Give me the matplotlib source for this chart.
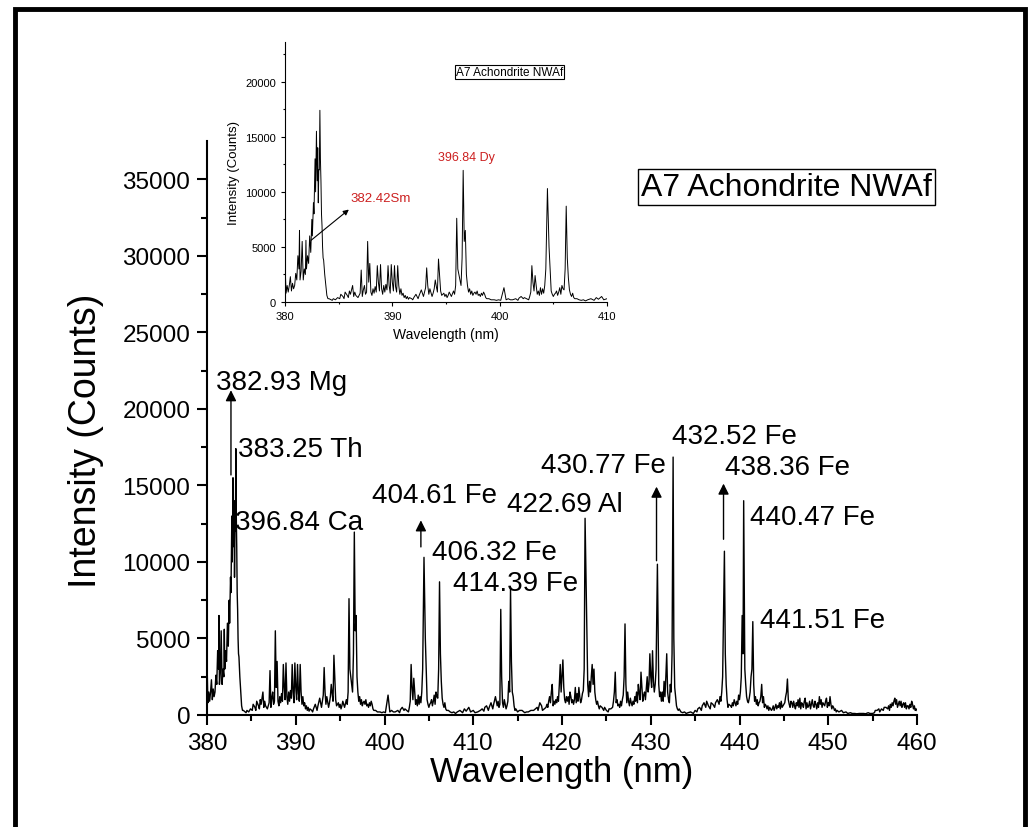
import numpy as np
import matplotlib
matplotlib.use("Agg")
import matplotlib.pyplot as plt
from matplotlib.patches import Rectangle

plt.rcParams['font.family'] = ['Liberation Sans', 'DejaVu Sans']

# emission lines: position (nm) and height (counts)
wavelength = [380.0, 380.2, 380.5, 380.8, 381.0, 381.2, 381.35, 381.5, 381.6, 381.8,
              381.95, 382.1, 382.3, 382.5, 382.65, 382.8, 382.93, 383.05, 383.15, 383.25,
              383.35, 383.45, 383.6, 383.8, 384.0, 384.5, 385.2, 385.6, 386.0, 386.3,
              386.6, 387.1, 387.4, 387.7, 387.9, 388.2, 388.6, 388.9, 389.2, 389.6,
              389.9, 390.2, 390.5, 390.8, 391.2, 391.6, 392.2, 392.7, 393.2, 393.5,
              394.0, 394.3, 394.8, 395.3, 395.7, 396.0, 396.2, 396.6, 396.8, 397.2,
              397.6, 398.0, 398.5, 399.0, 399.5, 400.4, 401.0, 401.5, 402.0, 402.5,
              403.0, 403.3, 403.6, 404.0, 404.45, 404.7, 405.2, 405.6, 405.9, 406.2,
              406.4, 406.8, 407.2, 407.8, 408.5, 409.0, 409.5, 410.0, 410.5, 411.0,
              411.5, 412.0, 412.5, 413.0, 413.1, 413.5, 414.0, 414.2, 414.5, 414.8,
              415.5, 416.0, 416.5, 417.0, 417.5, 418.0, 418.6, 418.9, 419.3, 419.8,
              420.1, 420.5, 420.9, 421.2, 421.5, 421.9, 422.3, 422.6, 422.75, 423.1,
              423.4, 423.6, 424.0, 424.5, 425.0, 425.5, 426.0, 426.3, 426.8, 427.1,
              427.4, 427.8, 428.2, 428.6, 428.9, 429.3, 429.6, 429.9, 430.2, 430.5,
              430.75, 431.1, 431.5, 431.8, 432.2, 432.52, 432.8, 433.2, 433.8, 434.5,
              435.0, 435.5, 436.0, 436.5, 437.0, 437.5, 438.0, 438.3, 438.5, 439.0,
              439.5, 440.0, 440.3, 440.47, 440.7, 441.2, 441.5, 441.8, 442.2, 442.5,
              443.0, 443.5, 444.0, 444.5, 445.0, 445.4, 445.8, 446.2, 446.6, 447.0,
              447.4, 447.8, 448.2, 448.6, 449.0, 449.4, 449.8, 450.2, 450.6, 451.0,
              451.5, 452.0, 452.5, 453.0, 453.5, 454.0, 454.5, 455.0, 455.5, 456.0,
              456.5, 457.0, 457.5, 458.0, 458.5, 459.0, 459.5, 460.0]
intensity = [3500, 1500, 2300, 1200, 2600, 4200, 6500, 2800, 5500, 3000,
             5600, 4200, 6000, 7500, 9000, 13000, 15500, 14000, 12000, 17400,
             11000, 6900, 3800, 1500, 300, 300, 700, 900, 1000, 1500,
             600, 2900, 1500, 5500, 3500, 1200, 3300, 3400, 1500, 3300,
             3400, 3300, 3300, 1200, 600, 400, 700, 1100, 3100, 1200,
             2000, 3900, 800, 900, 1000, 7600, 2500, 11950, 6500, 1200,
             800, 600, 900, 300, 200, 1300, 200, 300, 500, 300,
             3300, 2400, 1000, 1200, 10300, 3000, 800, 1300, 1200, 8700,
             2200, 800, 300, 200, 300, 400, 500, 300, 200, 400,
             600, 800, 1200, 700, 6900, 1000, 2200, 8300, 1200, 400,
             300, 200, 300, 400, 800, 400, 1200, 2000, 1000, 3300,
             3600, 1200, 1500, 1000, 1800, 1800, 1400, 12850, 7200, 2200,
             3300, 3000, 900, 500, 300, 400, 2800, 600, 1000, 5950,
             1500, 800, 1200, 2000, 2800, 1500, 2500, 4000, 4200, 2000,
             9850, 1500, 2200, 4000, 2000, 16850, 1200, 400, 200, 200,
             300, 500, 800, 600, 700, 1000, 1500, 10700, 2000, 600,
             800, 1000, 6500, 14000, 2000, 1500, 6100, 1200, 800, 2000,
             600, 400, 500, 800, 700, 2350, 900, 600, 1000, 800,
             1100, 600, 1000, 700, 1200, 800, 1100, 1200, 500, 300,
             300, 200, 150, 100, 100, 100, 150, 100, 300, 400,
             500, 700, 1100, 900, 800, 600, 700, 300]

# low-level background points between the lines
noise_wl = [380.1, 380.3, 380.4, 380.6, 380.7, 380.9, 381.1, 381.3, 381.4, 381.7,
            381.9, 382.0, 382.2, 382.4, 382.55, 382.7, 382.85, 383.0, 383.1, 383.2,
            383.3, 383.4, 383.5, 383.55, 383.7, 383.9, 384.1,
            384.2, 384.4, 384.7, 384.9, 385.1, 385.4, 385.5, 385.8, 385.9, 386.1,
            386.4, 386.5, 386.8, 386.9, 387.0, 387.2, 387.3, 387.5, 387.6, 387.8,
            388.0, 388.1, 388.3, 388.4, 388.5, 388.7, 388.8, 389.0, 389.1, 389.3,
            389.4, 389.5, 389.7, 389.8, 390.0, 390.1, 390.3, 390.4, 390.6, 390.7,
            390.9, 391.0, 391.1, 391.3, 391.4, 391.5, 391.8, 391.9, 392.0, 392.4,
            392.5, 392.9, 393.0, 393.1, 393.3, 393.4, 393.7, 393.8, 393.9, 394.1,
            394.2, 394.5, 394.6, 394.9, 395.0, 395.1, 395.2, 395.5, 395.8, 395.9,
            396.1, 396.4, 396.5, 396.7, 396.9, 397.0, 397.1, 397.3, 397.4, 397.5,
            397.7, 397.8, 397.9, 398.1, 398.2, 398.3, 398.4, 398.6, 398.7, 398.8,
            399.2, 399.7, 399.9, 400.1, 400.6, 400.8, 401.2, 401.7, 401.8, 402.2,
            402.3, 402.7, 402.8, 402.9, 403.1, 403.2, 403.4, 403.5, 403.7, 403.8,
            403.9, 404.1, 404.2, 404.3, 404.6, 404.8, 404.9, 405.0, 405.1, 405.3,
            405.4, 405.5, 405.7, 405.8, 406.0, 406.1, 406.3, 406.5, 406.6, 406.7,
            406.9, 407.0, 407.4, 407.6, 408.0, 408.2, 408.8, 409.2, 409.7, 410.2,
            410.8, 411.2, 411.3, 411.7, 411.8, 412.2, 412.3, 412.7, 412.8, 412.9,
            413.2, 413.3, 413.4, 413.7, 413.8, 413.9, 414.1, 414.3, 414.4, 414.6,
            414.7, 415.0, 415.2, 415.8, 416.2, 416.8, 417.2, 417.3, 417.7, 417.8,
            418.2, 418.3, 418.4, 418.5, 418.7, 418.8, 419.0, 419.1, 419.2, 419.4,
            419.5, 419.6, 419.7, 419.9, 420.0, 420.2, 420.3, 420.4, 420.6, 420.7,
            420.8, 421.0, 421.1, 421.3, 421.4, 421.6, 421.7, 421.8, 422.0, 422.1,
            422.2, 422.4, 422.5, 422.9, 423.0, 423.2, 423.3, 423.5, 423.7, 423.8,
            423.9, 424.1, 424.2, 424.3, 424.7, 424.8, 425.2, 425.3, 425.7, 425.8,
            425.9, 426.1, 426.2, 426.4, 426.5, 426.6, 426.7, 426.9, 427.0, 427.2,
            427.3, 427.5, 427.6, 427.7, 427.9, 428.0, 428.1, 428.3, 428.4, 428.5,
            428.7, 428.8, 429.0, 429.1, 429.2, 429.4, 429.5, 429.7, 429.8, 430.0,
            430.1, 430.3, 430.4, 430.6, 430.9, 431.0, 431.2, 431.3, 431.4, 431.6,
            431.7, 431.9, 432.0, 432.1, 432.3, 432.4, 432.6, 432.7, 432.9, 433.0,
            433.1, 433.4, 433.6, 434.0, 434.2, 434.8, 435.2, 435.3, 435.7, 435.8,
            436.2, 436.3, 436.7, 436.8, 437.2, 437.3, 437.7, 437.8, 437.9, 438.1,
            438.4, 438.6, 438.7, 438.8, 439.1, 439.2, 439.3, 439.4, 439.6, 439.7,
            439.8, 439.9, 440.1, 440.2, 440.4, 440.6, 440.8, 440.9, 441.0, 441.1,
            441.3, 441.4, 441.6, 441.7, 441.9, 442.0, 442.1, 442.3, 442.4, 442.6,
            442.7, 442.8, 442.9, 443.1, 443.2, 443.3, 443.4, 443.6, 443.7, 443.8,
            443.9, 444.1, 444.2, 444.3, 444.4, 444.6, 444.7, 444.8, 444.9, 445.1,
            445.2, 445.3, 445.5, 445.6, 445.7, 445.9, 446.0, 446.1, 446.3, 446.4,
            446.5, 446.7, 446.8, 446.9, 447.1, 447.2, 447.3, 447.5, 447.6, 447.7,
            447.9, 448.0, 448.1, 448.3, 448.4, 448.5, 448.7, 448.8, 448.9, 449.1,
            449.2, 449.3, 449.5, 449.6, 449.7, 449.9, 450.0, 450.1, 450.3, 450.4,
            450.5, 450.7, 450.8, 450.9, 451.2, 451.7, 452.2, 452.7, 453.2, 453.7,
            454.2, 454.7, 455.2, 455.3, 455.7, 455.8, 456.2, 456.3, 456.7, 456.8,
            456.9, 457.1, 457.2, 457.3, 457.4, 457.6, 457.7, 457.8, 457.9, 458.1,
            458.2, 458.3, 458.4, 458.6, 458.7, 458.8, 458.9, 459.1, 459.2, 459.3,
            459.4, 459.6, 459.7, 459.8, 459.9]
noise_int = [800, 900, 1500, 1000, 1700, 1500, 2000, 3000, 2000, 2000,
             2500, 3000, 3500, 4500, 6000, 8000, 10000, 11000, 9000, 12000,
             13000, 8000, 5000, 4000, 2500, 600, 300,
             250, 150, 200, 400, 300, 500, 300, 600, 400, 700,
             500, 900, 400, 600, 800, 500, 1100, 700, 900, 1800,
             900, 600, 800, 1400, 900, 1800, 1000, 1200, 700, 900,
             1600, 1100, 1500, 800, 1800, 1000, 1400, 900, 1500, 700,
             600, 800, 400, 300, 500, 250, 300, 200, 400, 300,
             600, 500, 900, 1300, 1500, 700, 500, 800, 1200, 1400,
             900, 1000, 600, 500, 700, 400, 600, 500, 700, 1500,
             3000, 1500, 4000, 5500, 2500, 1500, 900, 700, 1000, 600,
             900, 700, 1000, 700, 500, 800, 600, 700, 400, 300,
             200, 150, 200, 150, 200, 300, 200, 150, 350, 300,
             400, 200, 500, 900, 1800, 1000, 1500, 700, 600, 1300,
             700, 800, 1500, 3000, 5000, 1000, 700, 500, 700, 1000,
             600, 900, 700, 1500, 1100, 3000, 4000, 1100, 700, 500,
             400, 300, 200, 150, 100, 200, 150, 250, 200, 150,
             300, 250, 500, 300, 500, 400, 700, 600, 900, 500,
             2500, 800, 500, 400, 600, 900, 1500, 3500, 1500, 600,
             300, 200, 300, 150, 200, 300, 500, 300, 600, 300,
             500, 700, 500, 900, 800, 1500, 600, 900, 700, 800,
             1200, 900, 2000, 1500, 2500, 1800, 1000, 800, 900, 1200,
             700, 1200, 800, 700, 1000, 800, 1400, 900, 1200, 800,
             1000, 1600, 3000, 2000, 1200, 1500, 2500, 2000, 1500, 1000,
             700, 600, 400, 600, 300, 500, 200, 400, 500, 900,
             1500, 800, 1000, 700, 500, 900, 600, 1300, 2500, 2000,
             800, 900, 600, 1100, 600, 900, 700, 900, 1500, 800,
             1400, 1000, 1800, 900, 1300, 1000, 1800, 1500, 2000, 2500,
             1800, 2200, 1500, 3000, 2000, 1200, 900, 1500, 900, 1200,
             2500, 1500, 1000, 800, 1500, 4000, 5000, 1800, 600, 400,
             300, 200, 150, 100, 150, 100, 200, 400, 300, 600,
             500, 900, 400, 800, 500, 800, 700, 1200, 900, 2500,
             4000, 1000, 500, 700, 500, 800, 600, 1000, 600, 900,
             700, 1300, 1500, 2500, 4000, 3000, 1200, 900, 800, 1100,
             2500, 3000, 2000, 900, 700, 1000, 600, 900, 1200, 800,
             1200, 500, 700, 400, 600, 300, 500, 300, 400, 600,
             300, 700, 400, 600, 500, 400, 900, 500, 600, 800,
             1200, 1500, 1000, 700, 500, 800, 500, 900, 400, 800,
             600, 500, 1100, 400, 700, 500, 900, 400, 800, 500,
             900, 400, 700, 600, 500, 900, 400, 800, 500, 700,
             1000, 500, 700, 600, 900, 500, 800, 600, 700, 400,
             600, 300, 400, 200, 200, 150, 100, 100, 80, 100,
             80, 100, 150, 300, 400, 200, 300, 500, 400, 600,
             300, 500, 800, 600, 900, 700, 1000, 500, 700, 600,
             900, 500, 700, 500, 800, 400, 600, 400, 700, 500,
             900, 400, 600, 300, 400]

# main plot labels: text and position
main_labels = ["382.93 Mg", "383.25 Th", "396.84 Ca", "404.61 Fe", "406.32 Fe",
               "414.39 Fe", "422.69 Al", "430.77 Fe", "432.52 Fe", "438.36 Fe",
               "440.47 Fe", "441.51 Fe"]
label_x = [381.0, 383.5, 383.2, 398.6, 405.35, 407.7, 413.8, 417.6, 432.4, 438.4, 441.2, 442.3]
label_y = [21750, 17370, 12600, 14370, 10650, 8620, 13780, 16330, 18220, 16200, 12930, 6200]

# arrows: x, start y, end y
arrow_x = [382.7, 404.1, 430.65, 438.2]
arrow_y0 = [15500, 10800, 9900, 11300]
arrow_y1 = [21400, 12900, 15100, 15300]

# merge lines and background into one spectrum trace
xs = np.array(wavelength + noise_wl)
ys = np.array(intensity + noise_int)
order = np.argsort(xs)
xs, ys = xs[order], ys[order]

fig = plt.figure(figsize=(10.3, 8.28), dpi=100)

ax = fig.add_axes([207/1030, 112/828, 710/1030, 574/828])
ax.plot(xs, ys, color='black', lw=1.0)
ax.set_xlim(380, 460)
ax.set_ylim(0, 37500)
ax.set_xticks(np.arange(380, 461, 10))
ax.set_xticks(np.arange(385, 460, 10), minor=True)
ax.set_yticks(np.arange(0, 35001, 5000))
ax.set_yticks(np.arange(2500, 37500, 5000), minor=True)
ax.spines['top'].set_visible(False)
ax.spines['right'].set_visible(False)
ax.spines['left'].set_linewidth(1.5)
ax.spines['bottom'].set_linewidth(1.5)
ax.tick_params(which='major', direction='out', length=7, width=1.5, labelsize=17.5, pad=5)
ax.tick_params(which='minor', direction='out', length=4, width=1.5)
ax.set_xlabel("Wavelength (nm)", fontsize=25, labelpad=1)
ax.set_ylabel("Intensity (Counts)", fontsize=27)
ax.yaxis.set_label_coords(-0.145, 0.48)

for t, x, y in zip(main_labels, label_x, label_y):
    ax.text(x, y, t, fontsize=20, ha='left', va='center')
for x, y0, y1 in zip(arrow_x, arrow_y0, arrow_y1):
    ax.annotate("", xy=(x, y1), xytext=(x, y0),
                arrowprops=dict(arrowstyle='-|>', color='black', lw=1, mutation_scale=16))

ax.text(445.3, 34480, "A7 Achondrite NWAf", fontsize=23, ha='center', va='center',
        bbox=dict(boxstyle='square,pad=0.1', fc='white', ec='black', lw=1))

# inset: zoom of 380-410 nm
ins = fig.add_axes([285/1030, (828-303)/828, 322/1030, 260/828])
ins.plot(xs, ys, color='black', lw=0.7)
ins.set_xlim(380, 410)
ins.set_ylim(0, 23600)
ins.set_xticks([380, 390, 400, 410])
ins.set_xticks([385, 395, 405], minor=True)
ins.set_yticks(np.arange(0, 20001, 5000))
ins.set_yticks(np.arange(2500, 22600, 5000), minor=True)
ins.spines['top'].set_visible(False)
ins.spines['right'].set_visible(False)
ins.tick_params(which='major', direction='out', length=3, width=0.8, labelsize=8)
ins.tick_params(which='minor', direction='out', length=1.5, width=0.8)
ins.set_xlabel("Wavelength (nm)", fontsize=10)
ins.set_ylabel("Intensity (Counts)", fontsize=9.5)
ins.text(400.9, 20900, "A7 Achondrite NWAf", fontsize=8.5, ha='center', va='center',
         bbox=dict(boxstyle='square,pad=0.1', fc='white', ec='black', lw=0.8))
ins.text(396.9, 13180, "396.84 Dy", fontsize=9, color='#cc2020', ha='center', va='center')
ins.text(386.06, 9450, "382.42Sm", fontsize=9.5, color='#cc2020', ha='left', va='center')
ins.annotate("", xy=(386.15, 8550), xytext=(382.24, 5450),
             arrowprops=dict(arrowstyle='-|>', color='black', lw=0.8, mutation_scale=8))

# outer frame of the figure
fig.patches.append(Rectangle((15/1030, -0.05), 1010/1030, 1.05 - 10/828, fill=False,
                             ec='black', lw=3.5, transform=fig.transFigure, figure=fig))

fig.savefig("out.png", dpi=100)
